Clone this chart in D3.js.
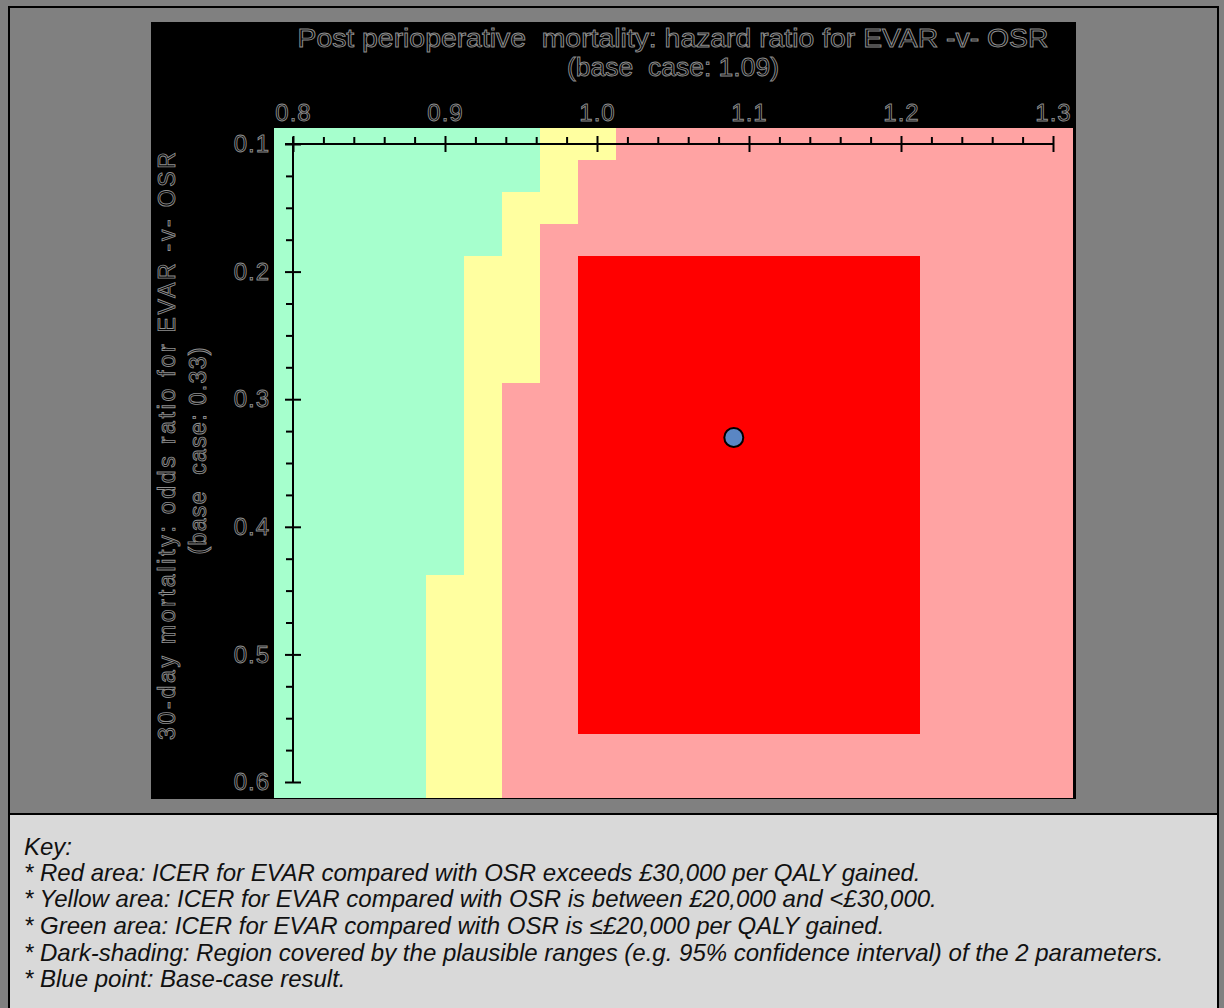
<!DOCTYPE html>
<html>
<head>
<meta charset="utf-8">
<script src="https://cdn.jsdelivr.net/npm/d3@7"></script>
<style>
  html, body { margin: 0; padding: 0; background: #808080; }
  svg { display: block; }
  .ol { fill: #000; stroke: #8e8e8e; stroke-width: 0.9px; font-family: "Liberation Sans", Arial, sans-serif; white-space: pre; }
  .key { font-family: "Liberation Sans", Arial, sans-serif; font-style: italic; font-size: 24px; fill: #111; }
</style>
</head>
<body>
<script>
// ---- data ----
const hazardRatios = [0.8, 0.825, 0.85, 0.875, 0.9, 0.925, 0.95, 0.975, 1.0, 1.025, 1.05,
                      1.075, 1.1, 1.125, 1.15, 1.175, 1.2, 1.225, 1.25, 1.275, 1.3];
const oddsRatios = [0.1, 0.125, 0.15, 0.175, 0.2, 0.225, 0.25, 0.275, 0.3, 0.325, 0.35,
                    0.375, 0.4, 0.425, 0.45, 0.475, 0.5, 0.525, 0.55, 0.575, 0.6];
// last hazard ratio (column) in each odds-ratio row that is green (<= £20,000)
const greenMax = [0.95, 0.95, 0.925, 0.925, 0.9, 0.9, 0.9, 0.9, 0.9, 0.9, 0.9,
                  0.9, 0.9, 0.9, 0.875, 0.875, 0.875, 0.875, 0.875, 0.875, 0.875];
// last hazard ratio in each row that is yellow (£20,000 - £30,000)
const yellowMax = [1.0, 0.975, 0.975, 0.95, 0.95, 0.95, 0.95, 0.95, 0.925, 0.925, 0.925,
                   0.925, 0.925, 0.925, 0.925, 0.925, 0.925, 0.925, 0.925, 0.925, 0.925];
const hrRange = [1.0, 1.2];     // plausible range of hazard ratio
const orRange = [0.2, 0.55];    // plausible range of odds ratio
const baseCase = { hr: 1.09, or: 0.33 };
const xTicks = [0.8, 0.9, 1.0, 1.1, 1.2, 1.3];
const xTickLabels = ["0.8", "0.9", "1.0", "1.1", "1.2", "1.3"];
const xMinorTicks = [0.82, 0.84, 0.86, 0.88, 0.92, 0.94, 0.96, 0.98, 1.02, 1.04, 1.06, 1.08,
                     1.12, 1.14, 1.16, 1.18, 1.22, 1.24, 1.26, 1.28];
const yTicks = [0.1, 0.2, 0.3, 0.4, 0.5, 0.6];
const yTickLabels = ["0.1", "0.2", "0.3", "0.4", "0.5", "0.6"];
const yMinorTicks = [0.125, 0.15, 0.175, 0.225, 0.25, 0.275, 0.325, 0.35, 0.375,
                     0.425, 0.45, 0.475, 0.525, 0.55, 0.575];
const colors = { green: "#a6ffcd", yellow: "#ffffa0", red: "#ffa3a3", dark: "#ff0000" };
const titleLines = ["Post perioperative  mortality: hazard ratio for EVAR -v- OSR", "(base  case: 1.09)"];
const yTitleLines = ["30-day mortality: odds ratio for EVAR -v- OSR", "(base  case: 0.33)"];
const keyLines = [
  "Key:",
  "* Red area: ICER for EVAR compared with OSR exceeds £30,000 per QALY gained.",
  "* Yellow area: ICER for EVAR compared with OSR is between £20,000 and <£30,000.",
  "* Green area: ICER for EVAR compared with OSR is ≤£20,000 per QALY gained.",
  "* Dark-shading: Region covered by the plausible ranges (e.g. 95% confidence interval) of the 2 parameters.",
  "* Blue point: Base-case result."
];

// ---- layout ----
const W = 1224, H = 1008;
const svg = d3.select("body").append("svg").attr("width", W).attr("height", H);

svg.append("rect").attr("x", 0).attr("y", 0).attr("width", W).attr("height", H).attr("fill", "#808080");
// outer frame
svg.append("rect").attr("x", 9).attr("y", 7).attr("width", 1209).attr("height", 1010)
  .attr("fill", "#808080").attr("stroke", "#000").attr("stroke-width", 2);
// key panel
svg.append("rect").attr("x", 10).attr("y", 814).attr("width", 1207).attr("height", 200)
  .attr("fill", "#d9d9d9");
svg.append("line").attr("x1", 9).attr("x2", 1218).attr("y1", 814).attr("y2", 814)
  .attr("stroke", "#000").attr("stroke-width", 2);

// black chart panel
svg.append("rect").attr("x", 151).attr("y", 22).attr("width", 925).attr("height", 777).attr("fill", "#000");

const x = d3.scaleLinear().domain([0.8, 1.3]).range([293, 1053]);
const y = d3.scaleLinear().domain([0.1, 0.6]).range([144, 782]);
const hx = 0.0125, hy = 0.0125;

// cells
const cells = [];
oddsRatios.forEach((o, i) => {
  hazardRatios.forEach(h => {
    let cat;
    if (h <= greenMax[i] + 1e-9) cat = "green";
    else if (h <= yellowMax[i] + 1e-9) cat = "yellow";
    else cat = "red";
    if (cat === "red" && h >= hrRange[0] - 1e-9 && h <= hrRange[1] + 1e-9 &&
        o >= orRange[0] - 1e-9 && o <= orRange[1] + 1e-9) cat = "dark";
    cells.push({ h, o, cat });
  });
});
svg.append("g").attr("shape-rendering", "crispEdges")
  .selectAll("rect").data(cells).join("rect")
  .attr("x", d => x(d.h - hx))
  .attr("y", d => y(d.o - hy))
  .attr("width", d => x(d.h + hx) - x(d.h - hx) + 0.5)
  .attr("height", d => y(d.o + hy) - y(d.o - hy) + 0.5)
  .attr("fill", d => colors[d.cat]);

// x axis (top)
const gx = svg.append("g").attr("transform", `translate(0,${y(0.1)})`);
gx.append("line").attr("x1", x(0.8) - 8).attr("x2", x(1.3)).attr("y1", 0).attr("y2", 0)
  .attr("stroke", "#000").attr("stroke-width", 2);
const xMajor = gx.append("g").call(d3.axisTop(x).tickValues(xTicks).tickSize(8).tickSizeOuter(0)
  .tickPadding(15).tickFormat((d, i) => xTickLabels[i]));
xMajor.select(".domain").remove();
xMajor.selectAll(".tick line").attr("y2", 8).attr("y1", -8).attr("stroke", "#000").attr("stroke-width", 2);
xMajor.selectAll(".tick text").attr("class", "ol").attr("font-size", 24).attr("fill", null)
  .style("letter-spacing", "1px");
const xMinor = gx.append("g").call(d3.axisTop(x).tickValues(xMinorTicks).tickSize(7).tickFormat(""));
xMinor.select(".domain").remove();
xMinor.selectAll(".tick line").attr("stroke", "#000").attr("stroke-width", 2);

// y axis (left)
const gy = svg.append("g").attr("transform", `translate(${x(0.8)},0)`);
gy.append("line").attr("x1", 0).attr("x2", 0).attr("y1", y(0.1) - 7).attr("y2", y(0.6))
  .attr("stroke", "#000").attr("stroke-width", 2);
const yMajor = gy.append("g").call(d3.axisLeft(y).tickValues(yTicks).tickSize(8).tickSizeOuter(0)
  .tickPadding(15).tickFormat((d, i) => yTickLabels[i]));
yMajor.select(".domain").remove();
yMajor.selectAll(".tick line").attr("x1", 8).attr("x2", -8).attr("stroke", "#000").attr("stroke-width", 2);
yMajor.selectAll(".tick text").attr("class", "ol").attr("font-size", 24).attr("fill", null)
  .style("letter-spacing", "1px");
const yMinor = gy.append("g").call(d3.axisLeft(y).tickValues(yMinorTicks).tickSize(7).tickFormat(""));
yMinor.select(".domain").remove();
yMinor.selectAll(".tick line").attr("stroke", "#000").attr("stroke-width", 2);

// base case point
svg.append("circle").attr("cx", x(baseCase.hr)).attr("cy", y(baseCase.or)).attr("r", 9.5)
  .attr("fill", "#5a86c4").attr("stroke", "#000").attr("stroke-width", 2);

// titles
const titleY = [47, 76], titleLen = [751, 212];
titleLines.forEach((t, i) => {
  svg.append("text").attr("class", "ol").attr("x", 673).attr("y", titleY[i])
    .attr("text-anchor", "middle").attr("font-size", 25)
    .attr("textLength", titleLen[i]).attr("lengthAdjust", "spacingAndGlyphs").text(t);
});
const yTitleX = [175, 206], yTitleC = [446, 451], yTitleLen = [588, 207];
yTitleLines.forEach((t, i) => {
  svg.append("text").attr("class", "ol")
    .attr("transform", `translate(${yTitleX[i]},${yTitleC[i]}) rotate(-90)`)
    .attr("text-anchor", "middle").attr("font-size", 23)
    .attr("textLength", yTitleLen[i]).attr("lengthAdjust", "spacing").text(t);
});

// key
const keyY = [855, 881, 907, 934, 961, 987];
keyLines.forEach((t, i) => {
  svg.append("text").attr("class", "key").attr("x", 24).attr("y", keyY[i]).text(t);
});
</script>
</body>
</html>
